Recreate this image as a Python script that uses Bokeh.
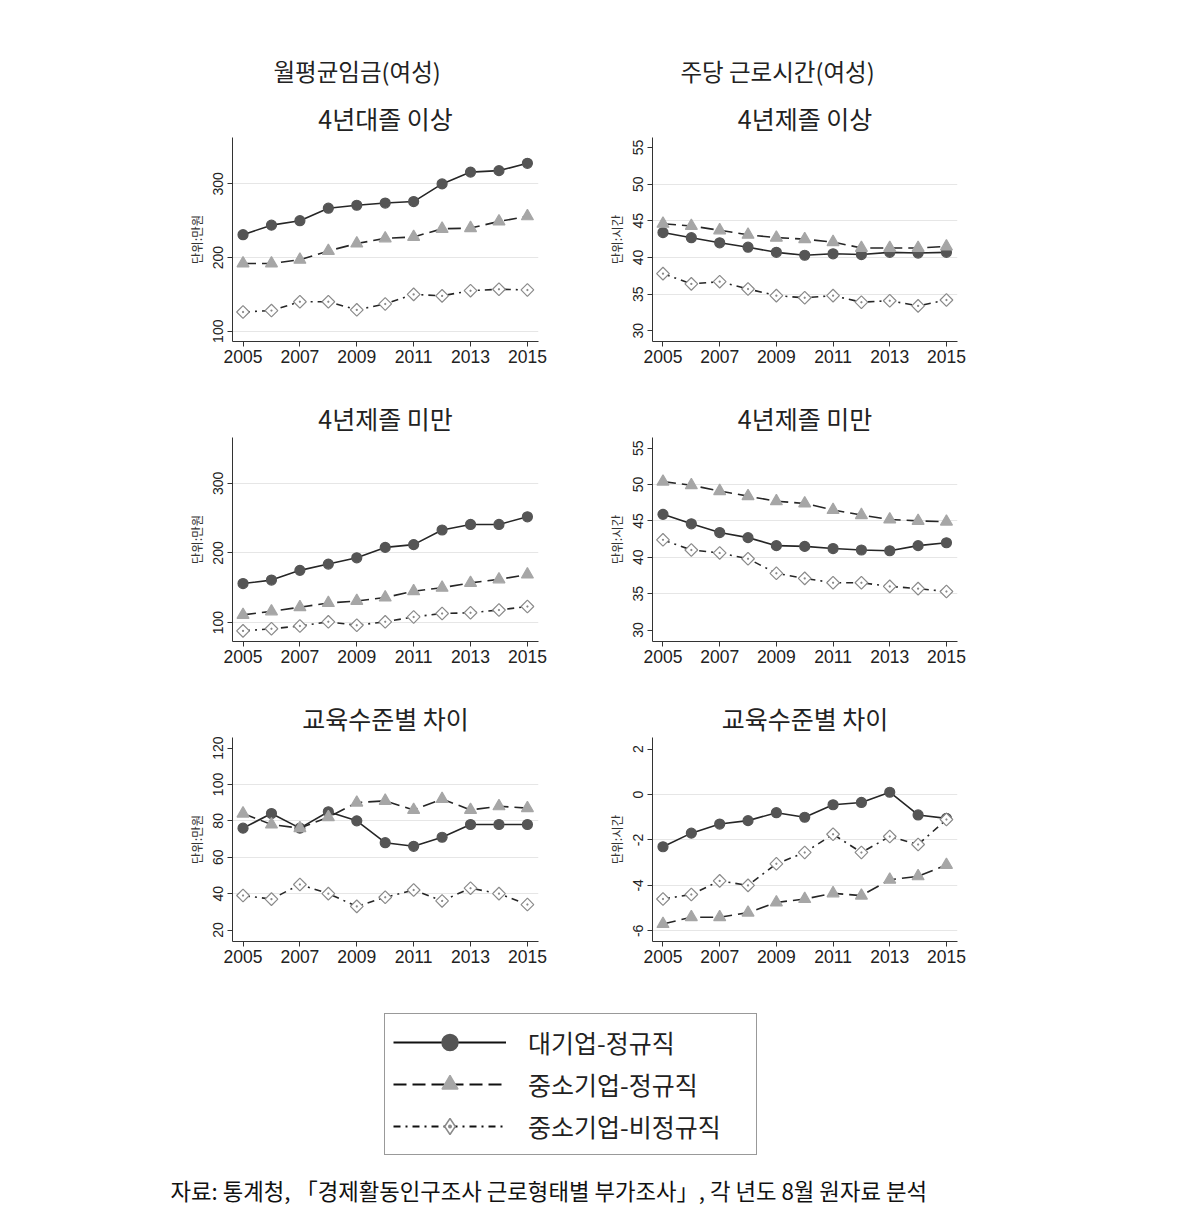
import numpy as np
from bokeh.plotting import figure
from bokeh.layouts import column, row
from bokeh.models import Range1d, FixedTicker, Title, Legend, LegendItem, Label
from bokeh.embed import file_html
from bokeh.resources import INLINE

years = list(range(2005, 2016))
xticks = [2005, 2007, 2009, 2011, 2013, 2015]

# 월평균임금(여성) - 4년대졸 이상
wage_hi_large = [231, 244, 250, 267, 271, 274, 276, 300, 316, 318, 328]
wage_hi_sme = [192, 192, 197, 209, 219, 226, 228, 239, 240, 249, 256]
wage_hi_nonreg = [126, 128, 140, 140, 129, 137, 150, 148, 155, 157, 156]
# 주당 근로시간(여성) - 4년제졸 이상
hours_hi_large = [43.4, 42.7, 42.0, 41.4, 40.7, 40.3, 40.5, 40.4, 40.7, 40.6, 40.7]
hours_hi_sme = [44.6, 44.3, 43.7, 43.1, 42.7, 42.5, 42.1, 41.3, 41.3, 41.3, 41.5]
hours_hi_nonreg = [37.8, 36.4, 36.7, 35.7, 34.8, 34.5, 34.8, 33.9, 34.1, 33.4, 34.2]
# 월평균임금(여성) - 4년제졸 미만
wage_lo_large = [156, 161, 175, 184, 193, 208, 212, 233, 241, 241, 252]
wage_lo_sme = [111, 116, 122, 128, 131, 136, 145, 150, 157, 162, 169]
wage_lo_nonreg = [88, 91, 95, 101, 96, 101, 108, 113, 114, 118, 123]
# 주당 근로시간(여성) - 4년제졸 미만
hours_lo_large = [45.9, 44.6, 43.4, 42.7, 41.6, 41.5, 41.2, 41.0, 40.9, 41.6, 42.0]
hours_lo_sme = [50.4, 49.9, 49.1, 48.4, 47.7, 47.4, 46.5, 45.8, 45.2, 45.0, 44.9]
hours_lo_nonreg = [42.4, 41.0, 40.6, 39.8, 37.8, 37.1, 36.5, 36.5, 36.0, 35.7, 35.3]
# 교육수준별 차이 - 임금
wage_gap_large = [76, 84, 76, 85, 80, 68, 66, 71, 78, 78, 78]
wage_gap_sme = [84, 78, 76, 82, 90, 91, 86, 92, 86, 88, 87]
wage_gap_nonreg = [39, 37, 45, 40, 33, 38, 42, 36, 43, 40, 34]
# 교육수준별 차이 - 근로시간
hours_gap_large = [-2.3, -1.7, -1.3, -1.15, -0.8, -1.0, -0.45, -0.35, 0.1, -0.9, -1.05]
hours_gap_sme = [-5.7, -5.4, -5.4, -5.2, -4.75, -4.6, -4.35, -4.45, -3.75, -3.6, -3.1]
hours_gap_nonreg = [-4.6, -4.4, -3.8, -4.0, -3.05, -2.55, -1.75, -2.55, -1.85, -2.2, -1.1]

gap_h_ticks = [-6, -4, -2, 0, 2]
gap_h_labels = ["-6", "-4", "-2", "0", "2"]

series_labels = ["대기업-정규직", "중소기업-정규직", "중소기업-비정규직"]
source_text = "자료: 통계청, 「경제활동인구조사 근로형태별 부가조사」, 각 년도 8월 원자료 분석"

KR = "Noto Sans CJK KR"
NUM = "Liberation Sans"
LINE_C = "#262626"
STY = dict(
    large=dict(dash="solid", marker="circle", lmarker="circle", size=10, fill="#555555", lc="#555555", angle=0.0),
    sme=dict(dash="13 6", marker="triangle", lmarker="triangle", size=12, fill="#a6a6a6", lc="#a6a6a6", angle=0.0),
    nonreg=dict(dash="7 5 2 5", marker="square_dot", lmarker="diamond_dot", size=9, fill="white", lc="#8a8a8a",
                angle=np.pi / 4),
)


def draw(p, key, ys):
    s = STY[key]
    p.line(years, ys, line_color=LINE_C, line_width=1.6, line_dash=s["dash"])
    p.scatter(years, ys, marker=s["marker"], size=s["size"], fill_color=s["fill"],
              line_color=s["lc"], line_width=1.2, angle=s["angle"])


def panel(sub, ylabel, ylim, yticks, ygrid, large, sme, nonreg, left, top_border, sup=None, sup_off=0):
    p = figure(frame_width=306 if left else 305, frame_height=204,
               min_border_left=232 if left else 52, min_border_right=62 if left else 223,
               min_border_top=top_border, min_border_bottom=47,
               x_range=Range1d(2004.63, 2015.39), y_range=Range1d(*ylim),
               output_backend="svg", toolbar_location=None)
    p.outline_line_color = None
    p.background_fill_color = "white"
    p.border_fill_color = "white"
    if sup is not None:
        p.title.text = sup
        p.title.text_font = KR
        p.title.text_font_size = "23.5px"
        p.title.text_font_style = "normal"
        p.title.align = "left"
        p.title.offset = sup_off
        p.title.standoff = 16
        p.title.text_color = "#222222"
    p.add_layout(Title(text=sub, align="center", text_font=KR, text_font_size="25px",
                       text_font_style="normal", text_color="#222222", standoff=4), "above")
    p.xgrid.visible = False
    p.ygrid.ticker = FixedTicker(ticks=ygrid)
    p.ygrid.grid_line_color = "#e6e6e6"
    p.ygrid.grid_line_width = 1
    p.xaxis.ticker = FixedTicker(ticks=xticks)
    p.yaxis.ticker = FixedTicker(ticks=yticks)
    for ax in (p.xaxis, p.yaxis):
        ax.axis_line_color = "#333333"
        ax.major_tick_line_color = "#333333"
        ax.minor_tick_line_color = None
        ax.major_tick_in = 0
        ax.major_tick_out = 5
        ax.major_label_text_font = NUM
        ax.major_label_text_color = "#222222"
    p.xaxis.major_label_text_font_size = "17.5px"
    p.xaxis.major_label_standoff = 3
    p.yaxis.major_label_text_font_size = "14px"
    p.yaxis.major_label_orientation = "vertical"
    p.yaxis.major_label_standoff = 4
    p.yaxis.axis_label = ylabel
    p.yaxis.axis_label_text_font = KR
    p.yaxis.axis_label_text_font_size = "12.5px"
    p.yaxis.axis_label_text_font_style = "normal"
    p.yaxis.axis_label_text_color = "#333333"
    p.yaxis.axis_label_standoff = 5
    draw(p, "large", large)
    draw(p, "sme", sme)
    draw(p, "nonreg", nonreg)
    return p


w_ticks = [100, 200, 300]
h_ticks = [30, 35, 40, 45, 50, 55]

p1 = panel("4년대졸 이상", "단위:만원", (86, 363), w_ticks, [100, 200, 300],
           wage_hi_large, wage_hi_sme, wage_hi_nonreg, True, 137, "월평균임금(여성)", 41)
p2 = panel("4년제졸 이상", "단위:시간", (28.54, 56.36), h_ticks, [35, 40, 45, 50],
           hours_hi_large, hours_hi_sme, hours_hi_nonreg, False, 137, "주당 근로시간(여성)", 28)
p3 = panel("4년제졸 미만", "단위:만원", (72.7, 366), w_ticks, [100, 200, 300],
           wage_lo_large, wage_lo_sme, wage_lo_nonreg, True, 49)
p4 = panel("4년제졸 미만", "단위:시간", (28.43, 56.46), h_ticks, [35, 40, 45, 50],
           hours_lo_large, hours_lo_sme, hours_lo_nonreg, False, 49)
p5 = panel("교육수준별 차이", "단위:만원", (13.7, 125.8), [20, 40, 60, 80, 100, 120], [40, 60, 80, 100],
           wage_gap_large, wage_gap_sme, wage_gap_nonreg, True, 49)
p6 = panel("교육수준별 차이", "단위:시간", (-6.47, 2.51), gap_h_ticks, [-6, -4, -2, 0],
           hours_gap_large, hours_gap_sme, hours_gap_nonreg, False, 49)
p6.yaxis.major_label_overrides = {t: s for t, s in zip(gap_h_ticks, gap_h_labels)}

# legend + source figure (series drawn outside its visible range so only the legend shows)
lf = figure(width=1180, height=220, x_range=Range1d(0, 1), y_range=Range1d(0, 1),
            min_border=0, output_backend="svg", toolbar_location=None)
lf.axis.visible = False
lf.grid.visible = False
lf.outline_line_color = None
items = []
for key, lab, ys in zip(["large", "sme", "nonreg"], series_labels,
                        [wage_hi_large, wage_hi_sme, wage_hi_nonreg]):
    s = STY[key]
    lr = lf.line(years, ys, line_color="#111111", line_width=2, line_dash=s["dash"])
    sr = lf.scatter(years, ys, marker=s["lmarker"], fill_color=s["fill"], line_color=s["lc"],
                    line_width=1.5, size=s["size"])
    items.append(LegendItem(label=lab, renderers=[lr, sr]))
leg = Legend(items=items, location=(384, 53), orientation="vertical",
             glyph_width=113, glyph_height=40, label_height=40, label_width=220,
             label_standoff=22, spacing=2, padding=8, margin=0,
             label_text_font=KR, label_text_font_size="25px", label_text_color="#222222",
             border_line_color="#333333", border_line_width=1.5,
             background_fill_color="white", background_fill_alpha=1.0)
lf.add_layout(leg, "center")
lf.add_layout(Label(x=170, y=19, x_units="screen", y_units="screen", text=source_text,
                    text_font=KR, text_font_size="22.3px", text_baseline="middle",
                    text_color="#111111"))

layout = column(row(p1, p2), row(p3, p4), row(p5, p6), lf)
open("out.html", "w").write(file_html(layout, INLINE))
